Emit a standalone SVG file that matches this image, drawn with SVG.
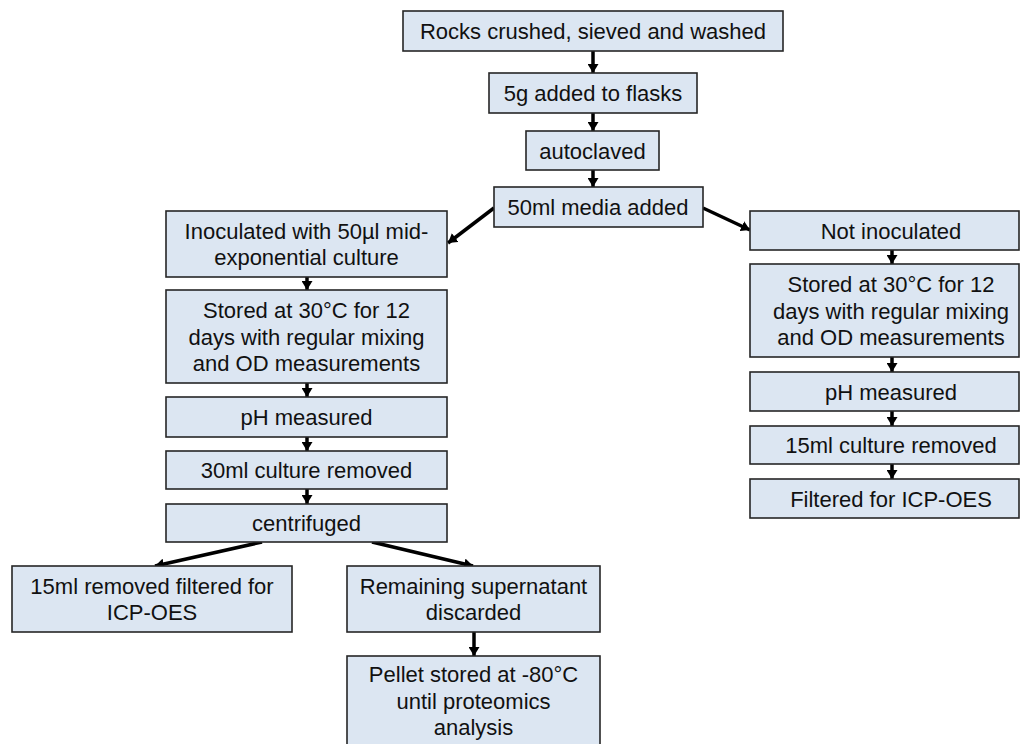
<svg xmlns="http://www.w3.org/2000/svg" width="1021" height="744" viewBox="0 0 1021 744">
  <defs>
    <style>
      .box rect { fill: #dce6f2; stroke: #262626; stroke-width: 1.6; }
      .box text { font-family: "Liberation Sans", Arial, sans-serif; font-size: 22px; fill: #111; text-anchor: middle; }
      .conn line { stroke: #000; stroke-width: 3.5; }
    </style>
    <marker id="ah" markerUnits="userSpaceOnUse" markerWidth="11" markerHeight="11" refX="9" refY="5.5" orient="auto">
      <path d="M0,0 L9,5.5 L0,11 z" fill="#000"/>
    </marker>
  </defs>
  <rect width="1021" height="744" fill="#ffffff"/>

  <g id="connectors" class="conn">
    <line x1="593" y1="51" x2="593" y2="73" marker-end="url(#ah)"/>
    <line x1="593" y1="113" x2="593" y2="131" marker-end="url(#ah)"/>
    <line x1="593" y1="170" x2="593" y2="187" marker-end="url(#ah)"/>
    <line x1="494" y1="208" x2="448" y2="243" marker-end="url(#ah)"/>
    <line x1="703" y1="208" x2="750" y2="230" marker-end="url(#ah)"/>
    <line x1="307" y1="277" x2="307" y2="290" marker-end="url(#ah)"/>
    <line x1="307" y1="383" x2="307" y2="397" marker-end="url(#ah)"/>
    <line x1="307" y1="437" x2="307" y2="451" marker-end="url(#ah)"/>
    <line x1="307" y1="489" x2="307" y2="504" marker-end="url(#ah)"/>
    <line x1="262" y1="542" x2="155" y2="566" marker-end="url(#ah)"/>
    <line x1="372" y1="542" x2="473" y2="566" marker-end="url(#ah)"/>
    <line x1="474" y1="632" x2="474" y2="656" marker-end="url(#ah)"/>
    <line x1="892" y1="250" x2="892" y2="264" marker-end="url(#ah)"/>
    <line x1="892" y1="357" x2="892" y2="372" marker-end="url(#ah)"/>
    <line x1="892" y1="411" x2="892" y2="426" marker-end="url(#ah)"/>
    <line x1="892" y1="464" x2="892" y2="479" marker-end="url(#ah)"/>
  </g>

  <g id="rocks" class="box"><rect x="403" y="11" width="380" height="40"/><text x="593" y="39">Rocks crushed, sieved and washed</text></g>
  <g id="added5g" class="box"><rect x="489" y="73" width="208" height="40"/><text x="593" y="101">5g added to flasks</text></g>
  <g id="autoclaved" class="box"><rect x="526" y="131" width="133" height="39"/><text x="592.5" y="158.5">autoclaved</text></g>
  <g id="media" class="box"><rect x="494" y="187" width="209" height="40"/><text x="598" y="215">50ml media added</text></g>

  <g id="inoculated" class="box"><rect x="166" y="211" width="281" height="66"/>
    <text x="306.5" y="238.5">Inoculated with 50µl mid-</text>
    <text x="306.5" y="265">exponential culture</text></g>
  <g id="storedL" class="box"><rect x="166" y="290" width="281" height="93"/>
    <text x="306.5" y="318">Stored at 30°C for 12</text>
    <text x="306.5" y="344.5">days with regular mixing</text>
    <text x="306.5" y="371">and OD measurements</text></g>
  <g id="phL" class="box"><rect x="166" y="397" width="281" height="40"/><text x="306.5" y="425">pH measured</text></g>
  <g id="culture30" class="box"><rect x="166" y="451" width="281" height="38"/><text x="306.5" y="478">30ml culture removed</text></g>
  <g id="centrifuged" class="box"><rect x="166" y="504" width="281" height="38"/><text x="306.5" y="531">centrifuged</text></g>

  <g id="removed15" class="box"><rect x="12" y="566" width="280" height="66"/>
    <text x="152" y="593.5">15ml removed filtered for</text>
    <text x="152" y="620">ICP-OES</text></g>
  <g id="remaining" class="box"><rect x="347" y="566" width="253" height="66"/>
    <text x="473.5" y="593.5">Remaining supernatant</text>
    <text x="473.5" y="620">discarded</text></g>
  <g id="pellet" class="box"><rect x="347" y="656" width="253" height="100"/>
    <text x="473.5" y="682">Pellet stored at -80°C</text>
    <text x="473.5" y="708.5">until proteomics</text>
    <text x="473.5" y="735">analysis</text></g>

  <g id="notinoc" class="box"><rect x="750" y="211" width="269" height="39"/><text x="891" y="238.5">Not inoculated</text></g>
  <g id="storedR" class="box"><rect x="750" y="264" width="269" height="93"/>
    <text x="891" y="292">Stored at 30°C for 12</text>
    <text x="891" y="318.5">days with regular mixing</text>
    <text x="891" y="345">and OD measurements</text></g>
  <g id="phR" class="box"><rect x="750" y="372" width="269" height="39"/><text x="891" y="399.5">pH measured</text></g>
  <g id="culture15" class="box"><rect x="750" y="426" width="269" height="38"/><text x="891" y="453">15ml culture removed</text></g>
  <g id="filtered" class="box"><rect x="750" y="479" width="269" height="39"/><text x="891" y="506.5">Filtered for ICP-OES</text></g>
</svg>
